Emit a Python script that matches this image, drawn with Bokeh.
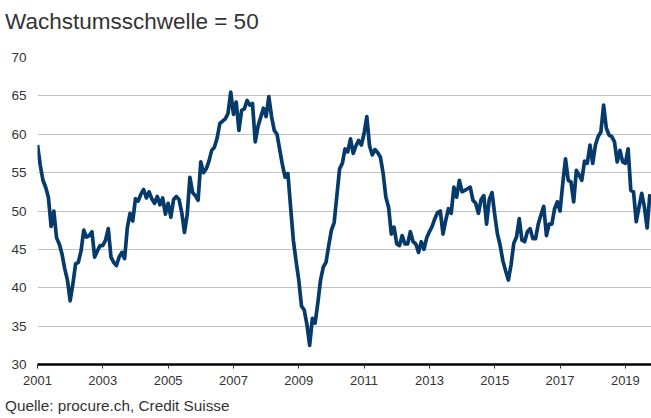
from bokeh.plotting import figure
from bokeh.models import Range1d, FixedTicker, ColumnDataSource, Div
from bokeh.layouts import column
from bokeh.embed import file_html
from bokeh.resources import INLINE

# Monthly PMI values (Jan 2001 .. Oct 2019)
y2001 = [58.6, 56.0, 54.0, 53.1, 51.8, 48.0, 50.0, 46.5, 45.7, 44.4, 42.5, 41.0]
y2002 = [38.3, 40.5, 43.1, 43.3, 44.8, 47.5, 46.6, 46.8, 47.3, 44.0, 44.8, 45.5]
y2003 = [45.5, 46.2, 47.7, 44.0, 43.3, 42.9, 44.0, 44.6, 43.8, 47.8, 49.7, 48.7]
y2004 = [51.6, 51.3, 52.2, 52.8, 51.7, 52.5, 51.6, 51.0, 51.9, 50.8, 51.7, 49.6]
y2005 = [51.0, 49.2, 51.5, 51.9, 51.5, 49.8, 47.2, 49.5, 54.4, 52.4, 52.0, 51.4]
y2006 = [56.4, 55.0, 55.5, 56.5, 57.9, 58.3, 59.5, 61.4, 61.7, 62.0, 62.7, 65.5]
y2007 = [62.6, 64.2, 60.5, 63.1, 63.3, 64.4, 63.8, 64.0, 59.0, 61.0, 62.2, 63.4]
y2008 = [62.3, 64.9, 62.3, 60.5, 60.0, 58.0, 56.0, 54.4, 54.9, 50.5, 46.2, 43.5]
y2009 = [41.0, 37.6, 37.1, 35.2, 32.5, 36.0, 35.4, 38.0, 41.0, 42.7, 43.3, 45.5]
y2010 = [47.5, 48.5, 52.0, 55.5, 56.2, 58.1, 57.7, 59.4, 57.5, 58.5, 59.2, 58.6]
y2011 = [60.1, 62.3, 58.5, 57.3, 58.0, 57.6, 57.0, 54.9, 51.8, 50.5, 47.0, 47.9]
y2012 = [45.7, 45.5, 46.8, 45.7, 45.7, 47.3, 46.0, 45.7, 44.6, 46.0, 45.0, 46.5]
y2013 = [47.3, 48.0, 49.0, 49.8, 50.0, 47.0, 48.8, 50.3, 49.7, 53.1, 51.8, 54.0]
y2014 = [52.5, 52.7, 52.9, 53.1, 51.4, 51.0, 49.7, 51.5, 52.0, 48.3, 51.5, 52.4]
y2015 = [49.5, 47.0, 45.5, 43.5, 42.2, 41.0, 43.0, 45.8, 46.6, 49.0, 46.2, 46.0]
y2016 = [47.3, 47.7, 46.4, 46.4, 48.3, 49.5, 50.6, 46.8, 48.3, 48.3, 50.3, 51.2]
y2017 = [50.0, 53.6, 56.8, 54.0, 53.8, 51.2, 55.3, 54.7, 54.0, 56.5, 56.2, 58.6]
y2018 = [56.2, 58.6, 59.7, 60.3, 63.8, 60.8, 59.9, 59.7, 59.0, 56.4, 57.9, 56.4]
y2019 = [56.2, 58.1, 52.7, 52.5, 48.6, 50.5, 52.3, 50.5, 47.8, 52.2]

tick_years = [2001, 2003, 2005, 2007, 2009, 2011, 2013, 2015, 2017, 2019]
y_ticks = [30, 35, 40, 45, 50, 55, 60, 65, 70]

title_text = "Wachstumsschwelle = 50"
source_text = "Quelle: procure.ch, Credit Suisse"

values = (y2001 + y2002 + y2003 + y2004 + y2005 + y2006 + y2007 + y2008 + y2009 +
          y2010 + y2011 + y2012 + y2013 + y2014 + y2015 + y2016 + y2017 + y2018 + y2019)
t = [2001 + i / 12 for i in range(len(values))]
src = ColumnDataSource(dict(t=t, v=values))

font = "Liberation Sans"

title_div = Div(text=title_text, width=651, height=40, margin=(0, 0, 0, 0),
                styles={"font-family": font, "font-size": "22.5px", "line-height": "22px",
                        "color": "#333333", "padding-left": "5px", "padding-top": "11px",
                        "white-space": "nowrap"})

p = figure(width=651, height=355, output_backend="svg", toolbar_location=None,
           x_range=Range1d(2001, 2019.80), y_range=Range1d(30, 70),
           min_border_left=37, min_border_right=0, min_border_top=17, min_border_bottom=31,
           margin=(0, 0, 0, 0))
p.outline_line_color = None
p.background_fill_color = "white"
p.border_fill_color = "white"

p.line("t", "v", source=src, line_color="#053a6b", line_width=3.7, line_join="round")

xa = p.xaxis[0]
xa.ticker = FixedTicker(ticks=tick_years)
xa.axis_line_color = "black"
xa.axis_line_width = 2.5
xa.major_tick_in = 0
xa.major_tick_out = 4
xa.major_tick_line_color = "#333333"
xa.minor_tick_line_color = None
xa.major_label_standoff = 7
xa.major_label_text_font = font
xa.major_label_text_font_size = "13px"
xa.major_label_text_color = "#333333"

ya = p.yaxis[0]
ya.ticker = FixedTicker(ticks=y_ticks)
ya.axis_line_color = None
ya.major_tick_line_color = None
ya.minor_tick_line_color = None
ya.major_tick_in = 0
ya.major_tick_out = 0
ya.major_label_standoff = 11
ya.major_label_text_font = font
ya.major_label_text_font_size = "13.5px"
ya.major_label_text_color = "#333333"

p.xgrid.grid_line_color = None
p.ygrid.ticker = FixedTicker(ticks=y_ticks)
p.ygrid.grid_line_color = "#c2c2c2"
p.ygrid.grid_line_width = 1

source_div = Div(text=source_text, width=651, height=23, margin=(0, 0, 0, 0),
                 styles={"font-family": font, "font-size": "15.3px", "line-height": "15px",
                         "color": "#333333", "padding-left": "5px", "padding-top": "3px",
                         "white-space": "nowrap"})

layout = column(title_div, p, source_div, spacing=0, margin=(0, 0, 0, 0))

open("out.html", "w").write(file_html(layout, INLINE))
